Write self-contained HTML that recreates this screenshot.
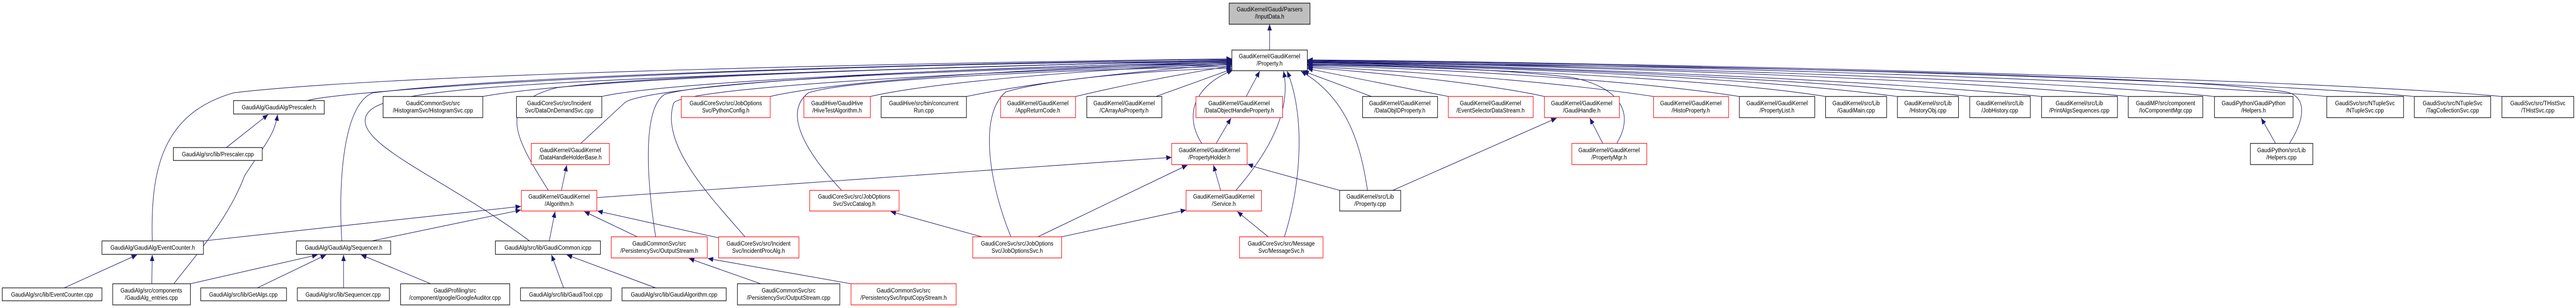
<!DOCTYPE html>
<html><head><meta charset="utf-8"><style>
html,body{margin:0;padding:0;background:#fff;width:100%;height:100%;overflow:hidden;}
svg{display:block;position:absolute;left:0;top:0;width:100vw;height:100vh;}
text{font-family:"Liberation Sans",Arial,sans-serif;font-size:12px;fill:#000;text-anchor:middle;}
.e{fill:none;stroke:#191970;stroke-width:1.1;marker-end:url(#a);}
.b{fill:#fff;stroke:#000;stroke-width:1.2;}
.r{fill:#fff;stroke:#ff0000;stroke-width:1.2;}
</style></head><body>
<svg viewBox="0 0 5736 597" preserveAspectRatio="none" xmlns="http://www.w3.org/2000/svg">
<defs><marker id="a" viewBox="0 0 12 10" refX="12" refY="5" markerWidth="12" markerHeight="10" markerUnits="userSpaceOnUse" orient="auto"><path d="M0,0 L12,5 L0,10 z" fill="#191970"/></marker></defs>

<path class="e" d="M2827,97 L2827,47"/>
<path class="e" d="M684,195 C760,175 1600,125 2743,118"/>
<path class="e" d="M1075,187 C1300,150 2200,125 2743,119"/>
<path class="e" d="M1340,187 C1500,155 2300,128 2743,120"/>
<path class="e" d="M1715,187 C1900,150 2400,130 2743,121"/>
<path class="e" d="M1938,187 C2100,155 2500,132 2743,123"/>
<path class="e" d="M2152,187 C2300,160 2550,135 2743,125"/>
<path class="e" d="M2395,187 C2500,165 2650,140 2743,128"/>
<path class="e" d="M2574,187 L2743,134"/>
<path class="e" d="M2775,187 L2805,138"/>
<path class="e" d="M339,467 C335,330 360,220 520,180 C900,140 2200,120 2743,114"/>
<path class="e" d="M761,467 C752,330 770,200 830,180 C1200,140 2300,120 2743,115"/>
<path class="e" d="M1179,467 C1000,350 790,280 815,225 C840,170 1100,155 2743,116"/>
<path class="e" d="M1221,369 C1150,270 1100,200 1240,170 C1500,140 2400,125 2743,117"/>
<path class="e" d="M1293,278 L1390,200 C1420,170 2000,130 2743,122"/>
<path class="e" d="M1460,459 C1440,350 1430,210 1480,183 C1600,150 2400,128 2743,124"/>
<path class="e" d="M1659,459 C1580,380 1470,280 1500,200 C1520,165 2400,130 2743,126"/>
<path class="e" d="M1874,369 C1800,300 1740,220 1800,180 C1900,150 2500,132 2743,129"/>
<path class="e" d="M2251,459 C2200,350 2180,220 2240,178 C2350,150 2600,135 2743,132"/>
<path class="e" d="M2676,278 C2640,230 2650,170 2745,136"/>
<path class="e" d="M2752,369 C2800,320 2880,230 2858,138"/>
<path class="e" d="M2860,459 C2900,350 2905,220 2866,138"/>
<path class="e" d="M3045,369 C3030,280 3000,190 2897,138"/>
<path class="e" d="M3600,278 C3640,220 3610,170 3500,150 C3300,130 3000,125 2911,126"/>
<path class="e" d="M5098,278 C5140,220 5130,185 5090,178 C4800,140 3500,125 2911,122"/>
<path class="e" d="M3054,187 L2902,138"/>
<path class="e" d="M3225,187 L2911,133"/>
<path class="e" d="M3439,187 C3300,160 3000,135 2911,131"/>
<path class="e" d="M3682,187 C3400,150 3000,132 2911,129"/>
<path class="e" d="M3873,187 C3600,150 3100,130 2911,127"/>
<path class="e" d="M4065,187 C3800,150 3200,130 2911,125"/>
<path class="e" d="M4225,187 C3900,150 3300,128 2911,124"/>
<path class="e" d="M4386,187 C4000,150 3300,127 2911,122"/>
<path class="e" d="M4546,187 C4100,150 3300,126 2911,121"/>
<path class="e" d="M4739,187 C4300,150 3400,125 2911,120"/>
<path class="e" d="M4931,187 C4500,150 3400,124 2911,119"/>
<path class="e" d="M5181,187 C4700,150 3500,123 2911,118"/>
<path class="e" d="M5376,187 C4900,150 3600,122 2911,117"/>
<path class="e" d="M5571,187 C5100,150 3600,121 2911,116"/>

<path class="e" d="M504,286 L597,222"/>
<path class="e" d="M387,550 C450,480 510,420 545,340 C590,280 612,260 618,222"/>
<path class="e" d="M1250,369 L1262,320"/>
<path class="e" d="M453,467 L1160,400"/>
<path class="e" d="M828,467 L1160,407"/>
<path class="e" d="M1223,467 L1236,410"/>
<path class="e" d="M1419,459 L1301,410"/>
<path class="e" d="M1600,461 L1330,409"/>
<path class="e" d="M1329,383 L2609,305"/>
<path class="e" d="M143,558 L305,494"/>
<path class="e" d="M338,550 L339,494"/>
<path class="e" d="M424,550 L707,494"/>
<path class="e" d="M573,558 L726,494"/>
<path class="e" d="M765,558 L765,494"/>
<path class="e" d="M959,550 L804,494"/>
<path class="e" d="M1255,558 L1228,494"/>
<path class="e" d="M1460,558 L1262,494"/>
<path class="e" d="M1694,550 L1534,501"/>
<path class="e" d="M1895,550 L1576,501"/>
<path class="e" d="M2708,278 L2741,229"/>
<path class="e" d="M2186,459 L1983,410"/>
<path class="e" d="M2311,459 L2644,320"/>
<path class="e" d="M2364,459 L2641,407"/>
<path class="e" d="M2718,369 L2702,320"/>
<path class="e" d="M2824,459 L2755,410"/>
<path class="e" d="M2983,369 L2800,325 L2778,318"/>
<path class="e" d="M3101,369 L3466,229"/>
<path class="e" d="M3569,278 L3540,229"/>
<path class="e" d="M5067,278 L5035,229"/>

<rect x="2737" y="6" width="180" height="41" fill="#bfbfbf" stroke="#000" stroke-width="1.2"/>
<text x="2827" y="22">GaudiKernel/Gaudi/Parsers</text><text x="2827" y="36">/InputData.h</text>
<rect class="b" x="2743" y="97" width="168" height="40"/>
<text x="2827" y="113">GaudiKernel/GaudiKernel</text><text x="2827" y="127">/Property.h</text>

<rect class="b" x="520" y="195" width="202" height="26"/><text x="621" y="212">GaudiAlg/GaudiAlg/Prescaler.h</text>
<rect class="b" x="853" y="187" width="222" height="41"/><text x="964" y="204">GaudiCommonSvc/src</text><text x="964" y="218">/HistogramSvc/HistogramSvc.cpp</text>
<rect class="b" x="1150" y="187" width="190" height="41"/><text x="1245" y="204">GaudiCoreSvc/src/Incident</text><text x="1245" y="218">Svc/DataOnDemandSvc.cpp</text>
<rect class="r" x="1517" y="187" width="198" height="41"/><text x="1616" y="204">GaudiCoreSvc/src/JobOptions</text><text x="1616" y="218">Svc/PythonConfig.h</text>
<rect class="r" x="1790" y="187" width="148" height="41"/><text x="1864" y="204">GaudiHive/GaudiHive</text><text x="1864" y="218">/HiveTestAlgorithm.h</text>
<rect class="b" x="1962" y="187" width="190" height="41"/><text x="2057" y="204">GaudiHive/src/bin/concurrent</text><text x="2057" y="218">Run.cpp</text>
<rect class="r" x="2228" y="187" width="167" height="41"/><text x="2311" y="204">GaudiKernel/GaudiKernel</text><text x="2311" y="218">/AppReturnCode.h</text>
<rect class="b" x="2420" y="187" width="167" height="41"/><text x="2503" y="204">GaudiKernel/GaudiKernel</text><text x="2503" y="218">/CArrayAsProperty.h</text>
<rect class="r" x="2663" y="187" width="193" height="41"/><text x="2759" y="204">GaudiKernel/GaudiKernel</text><text x="2759" y="218">/DataObjectHandleProperty.h</text>
<rect class="b" x="3034" y="187" width="167" height="41"/><text x="3117" y="204">GaudiKernel/GaudiKernel</text><text x="3117" y="218">/DataObjIDProperty.h</text>
<rect class="r" x="3225" y="187" width="189" height="41"/><text x="3319" y="204">GaudiKernel/GaudiKernel</text><text x="3319" y="218">/EventSelectorDataStream.h</text>
<rect class="r" x="3439" y="187" width="167" height="41"/><text x="3522" y="204">GaudiKernel/GaudiKernel</text><text x="3522" y="218">/GaudiHandle.h</text>
<rect class="r" x="3682" y="187" width="167" height="41"/><text x="3765" y="204">GaudiKernel/GaudiKernel</text><text x="3765" y="218">/HistoProperty.h</text>
<rect class="b" x="3873" y="187" width="168" height="41"/><text x="3957" y="204">GaudiKernel/GaudiKernel</text><text x="3957" y="218">/PropertyList.h</text>
<rect class="b" x="4065" y="187" width="136" height="41"/><text x="4133" y="204">GaudiKernel/src/Lib</text><text x="4133" y="218">/GaudiMain.cpp</text>
<rect class="b" x="4225" y="187" width="136" height="41"/><text x="4293" y="204">GaudiKernel/src/Lib</text><text x="4293" y="218">/HistoryObj.cpp</text>
<rect class="b" x="4386" y="187" width="135" height="41"/><text x="4453" y="204">GaudiKernel/src/Lib</text><text x="4453" y="218">/JobHistory.cpp</text>
<rect class="b" x="4546" y="187" width="169" height="41"/><text x="4630" y="204">GaudiKernel/src/Lib</text><text x="4630" y="218">/PrintAlgsSequences.cpp</text>
<rect class="b" x="4739" y="187" width="166" height="41"/><text x="4822" y="204">GaudiMP/src/component</text><text x="4822" y="218">/IoComponentMgr.cpp</text>
<rect class="b" x="4931" y="187" width="175" height="41"/><text x="5018" y="204">GaudiPython/GaudiPython</text><text x="5018" y="218">/Helpers.h</text>
<rect class="b" x="5181" y="187" width="171" height="41"/><text x="5266" y="204">GaudiSvc/src/NTupleSvc</text><text x="5266" y="218">/NTupleSvc.cpp</text>
<rect class="b" x="5376" y="187" width="170" height="41"/><text x="5461" y="204">GaudiSvc/src/NTupleSvc</text><text x="5461" y="218">/TagCollectionSvc.cpp</text>
<rect class="b" x="5571" y="187" width="160" height="41"/><text x="5651" y="204">GaudiSvc/src/THistSvc</text><text x="5651" y="218">/THistSvc.cpp</text>

<rect class="b" x="386" y="286" width="198" height="25"/><text x="485" y="303">GaudiAlg/src/lib/Prescaler.cpp</text>
<rect class="r" x="1183" y="278" width="174" height="41"/><text x="1270" y="295">GaudiKernel/GaudiKernel</text><text x="1270" y="309">/DataHandleHolderBase.h</text>
<rect class="r" x="2609" y="278" width="168" height="41"/><text x="2693" y="295">GaudiKernel/GaudiKernel</text><text x="2693" y="309">/PropertyHolder.h</text>
<rect class="r" x="3500" y="278" width="167" height="41"/><text x="3583" y="295">GaudiKernel/GaudiKernel</text><text x="3583" y="309">/PropertyMgr.h</text>
<rect class="b" x="5011" y="278" width="139" height="41"/><text x="5080" y="295">GaudiPython/src/Lib</text><text x="5080" y="309">/Helpers.cpp</text>

<rect class="r" x="1161" y="369" width="168" height="40"/><text x="1245" y="385">GaudiKernel/GaudiKernel</text><text x="1245" y="399">/Algorithm.h</text>
<rect class="r" x="1803" y="369" width="199" height="40"/><text x="1902" y="385">GaudiCoreSvc/src/JobOptions</text><text x="1902" y="399">Svc/SvcCatalog.h</text>
<rect class="r" x="2641" y="369" width="168" height="40"/><text x="2725" y="385">GaudiKernel/GaudiKernel</text><text x="2725" y="399">/Service.h</text>
<rect class="b" x="2983" y="369" width="136" height="40"/><text x="3051" y="385">GaudiKernel/src/Lib</text><text x="3051" y="399">/Property.cpp</text>

<rect class="b" x="227" y="467" width="226" height="26"/><text x="340" y="484">GaudiAlg/GaudiAlg/EventCounter.h</text>
<rect class="b" x="660" y="467" width="210" height="26"/><text x="765" y="484">GaudiAlg/GaudiAlg/Sequencer.h</text>
<rect class="b" x="1103" y="467" width="234" height="26"/><text x="1220" y="484">GaudiAlg/src/lib/GaudiCommon.icpp</text>
<rect class="r" x="1361" y="459" width="214" height="41"/><text x="1468" y="476">GaudiCommonSvc/src</text><text x="1468" y="490">/PersistencySvc/OutputStream.h</text>
<rect class="r" x="1600" y="459" width="179" height="41"/><text x="1689" y="476">GaudiCoreSvc/src/Incident</text><text x="1689" y="490">Svc/IncidentProcAlg.h</text>
<rect class="r" x="2166" y="459" width="198" height="41"/><text x="2265" y="476">GaudiCoreSvc/src/JobOptions</text><text x="2265" y="490">Svc/JobOptionsSvc.h</text>
<rect class="r" x="2760" y="459" width="186" height="41"/><text x="2853" y="476">GaudiCoreSvc/src/Message</text><text x="2853" y="490">Svc/MessageSvc.h</text>

<rect class="b" x="5" y="558" width="222" height="25"/><text x="116" y="575">GaudiAlg/src/lib/EventCounter.cpp</text>
<rect class="b" x="251" y="550" width="173" height="41"/><text x="337" y="567">GaudiAlg/src/components</text><text x="337" y="581">/GaudiAlg_entries.cpp</text>
<rect class="b" x="447" y="558" width="191" height="25"/><text x="542" y="575">GaudiAlg/src/lib/GetAlgs.cpp</text>
<rect class="b" x="662" y="558" width="205" height="25"/><text x="764" y="575">GaudiAlg/src/lib/Sequencer.cpp</text>
<rect class="b" x="892" y="550" width="243" height="41"/><text x="1013" y="567">GaudiProfiling/src</text><text x="1013" y="581">/component/google/GoogleAuditor.cpp</text>
<rect class="b" x="1159" y="558" width="202" height="25"/><text x="1260" y="575">GaudiAlg/src/lib/GaudiTool.cpp</text>
<rect class="b" x="1385" y="558" width="232" height="25"/><text x="1501" y="575">GaudiAlg/src/lib/GaudiAlgorithm.cpp</text>
<rect class="b" x="1642" y="550" width="228" height="41"/><text x="1756" y="567">GaudiCommonSvc/src</text><text x="1756" y="581">/PersistencySvc/OutputStream.cpp</text>
<rect class="r" x="1895" y="550" width="234" height="41"/><text x="2012" y="567">GaudiCommonSvc/src</text><text x="2012" y="581">/PersistencySvc/InputCopyStream.h</text>
</svg>
</body></html>
